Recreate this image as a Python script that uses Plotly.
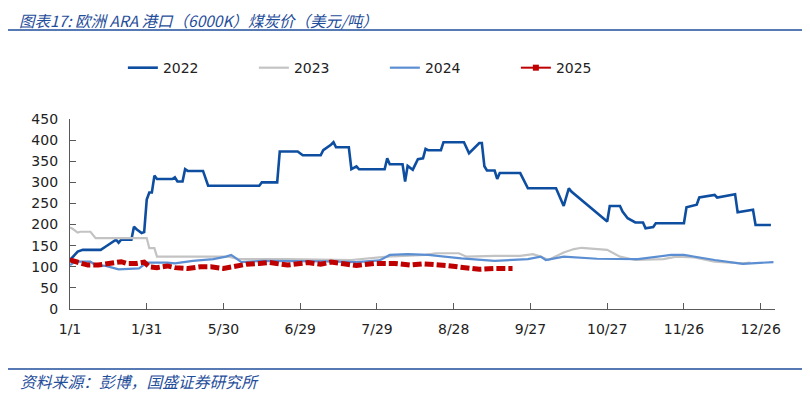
import plotly.graph_objects as go

# ---- data (category index along the x axis, value in USD/t) ----
tick_pos = [0, 30, 60, 90, 120, 150, 180, 210, 240, 270]
tick_labels = ["1/1", "1/31", "5/30", "6/29", "7/29", "8/28", "9/27", "10/27", "11/26", "12/26"]

x2022 = [0, 3, 5, 12, 14, 18, 19, 20, 24, 25, 26, 28, 29, 30, 31, 32, 33, 34, 40, 41, 42, 44, 45, 46, 52,
         54, 74, 75, 81, 82, 89, 91, 98, 99, 102, 103, 104, 109, 110, 112, 113, 123, 124, 125, 130, 131,
         132, 134, 136, 138, 139, 140, 145, 146, 154, 156, 160, 161, 162, 163, 166, 167, 168, 176, 179,
         190, 193, 195, 196, 210, 211, 215, 216, 218, 221, 224, 225, 228, 229, 240, 241, 245, 246, 252,
         253, 260, 261, 267, 268, 274]
y2022 = [116, 136, 140, 140, 148, 164, 157, 164, 164, 195, 189, 180, 182, 259, 276, 276, 316, 308, 308, 312,
         302, 302, 331, 327, 327, 292, 292, 300, 300, 373, 373, 364, 364, 376, 389, 395, 383, 383, 331,
         338, 331, 331, 357, 343, 343, 302, 339, 330, 355, 357, 379, 376, 376, 395, 395, 369, 393, 393,
         338, 328, 328, 308, 322, 322, 286, 286, 244, 286, 278, 207, 244, 244, 231, 215, 205, 205, 191,
         194, 203, 203, 241, 247, 264, 270, 264, 272, 229, 235, 199, 199]

x2023 = [0, 1, 3, 4, 8, 10, 30, 31, 33, 34, 62, 66, 85, 100, 110, 124, 139, 143, 152, 155, 166, 176, 181,
         184, 187, 193, 197, 200, 207, 210, 215, 221, 232, 237, 244, 252, 263, 266]
y2023 = [193, 190, 181, 183, 183, 168, 168, 144, 144, 124, 124, 118, 118, 116, 116, 124, 128, 132, 132, 124,
         126, 126, 130, 124, 116, 134, 142, 145, 141, 140, 124, 116, 118, 124, 122, 112, 108, 110]

x2024 = [0, 2, 8, 10, 14, 19, 27, 30, 38, 41, 48, 56, 61, 63, 64, 67, 75, 87, 100, 112, 121, 125, 132, 140,
         153, 166, 179, 184, 186, 193, 206, 222, 235, 240, 252, 263, 275]
y2024 = [104, 112, 112, 104, 102, 94, 96, 110, 110, 108, 114, 118, 124, 128, 124, 111, 114, 114, 113, 111,
         115, 128, 130, 128, 120, 114, 118, 124, 116, 124, 119, 118, 128, 128, 116, 107, 111]

x2025 = [0, 4, 7, 11, 14, 18, 20, 22, 26, 29, 31, 34, 38, 41, 46, 51, 55, 60, 64, 69, 74, 78, 85, 93, 98,
         102, 107, 112, 119, 127, 133, 138, 147, 153, 160, 166, 173]
y2025 = [116, 110, 104, 104, 107, 111, 112, 108, 108, 111, 100, 98, 102, 98, 96, 100, 100, 96, 100, 106,
         108, 110, 104, 110, 106, 111, 107, 103, 108, 108, 104, 107, 103, 99, 94, 96, 96]

C2022 = "#0E4EA0"
C2023 = "#C3C3C3"
C2024 = "#5B8ED2"
C2025 = "#C00000"

fig = go.Figure()
fig.add_trace(go.Scatter(x=x2022, y=y2022, mode="lines", name="2022",
                         line=dict(color=C2022, width=2.6)))
fig.add_trace(go.Scatter(x=x2023, y=y2023, mode="lines", name="2023",
                         line=dict(color=C2023, width=2.2)))
fig.add_trace(go.Scatter(x=x2024, y=y2024, mode="lines", name="2024",
                         line=dict(color=C2024, width=2.2)))
fig.add_trace(go.Scatter(x=x2025, y=y2025, mode="lines", name="2025", showlegend=False,
                         legendgroup="2025",
                         line=dict(color=C2025, width=5, dash="9px,3px")))
# legend entry for 2025 (line with square marker)
fig.add_trace(go.Scatter(x=[None], y=[None], mode="lines+markers", name="2025", legendgroup="2025",
                         line=dict(color=C2025, width=2),
                         marker=dict(symbol="square", size=6, color=C2025)))

axis_col = "#595959"
tick_font = dict(family="DejaVu Sans", size=14, color="#222222")

fig.update_xaxes(range=[0, 275.6], tickmode="array", tickvals=tick_pos, ticktext=tick_labels,
                 ticks="inside", ticklen=6, tickcolor=axis_col, showline=True, linecolor=axis_col,
                 linewidth=1.3, showgrid=False, zeroline=False, tickfont=tick_font,
                 ticklabelstandoff=7)
fig.update_yaxes(range=[0, 450], dtick=50, tick0=0, ticks="inside", ticklen=6, tickcolor=axis_col,
                 showline=True, linecolor=axis_col, linewidth=1.3, showgrid=False, zeroline=False,
                 tickfont=tick_font, ticklabelstandoff=8)

title_col = "#1F4E9B"
# page body has an 8px margin: the figure is sized so that the plot area lands where the reference has it
fig.update_layout(
    width=802, height=386,
    margin=dict(l=62, r=35, t=111, b=85),
    paper_bgcolor="white", plot_bgcolor="white",
    showlegend=True,
    legend=dict(orientation="h", x=0.075, xanchor="left", y=1.268, yanchor="middle",
                font=dict(family="DejaVu Sans", size=14, color="#222222"),
                entrywidth=86, entrywidthmode="pixels", bgcolor="rgba(0,0,0,0)"),
    annotations=[
        dict(text="<i>图表17: 欧洲 ARA 港口（6000K）煤炭价（美元/吨）</i>", xref="paper", yref="paper",
             x=-0.0738, y=1.582, xanchor="left", yanchor="top", showarrow=False, borderpad=0,
             font=dict(family="Noto Sans CJK SC", size=15.5, color=title_col)),
        dict(text="<i>资料来源：彭博，国盛证券研究所</i>", xref="paper", yref="paper",
             x=-0.0738, y=-0.379, xanchor="left", yanchor="middle", showarrow=False,
             font=dict(family="Noto Sans CJK SC", size=15.8, color=title_col)),
    ],
    shapes=[
        dict(type="line", xref="paper", yref="paper", x0=-0.0922, x1=1.0426, y0=1.468, y1=1.468,
             line=dict(color=title_col, width=1.5)),
        dict(type="line", xref="paper", yref="paper", x0=-0.0922, x1=1.0426, y0=-0.3158, y1=-0.3158,
             line=dict(color=title_col, width=1.5)),
    ],
)

fig.write_html("out.html")
